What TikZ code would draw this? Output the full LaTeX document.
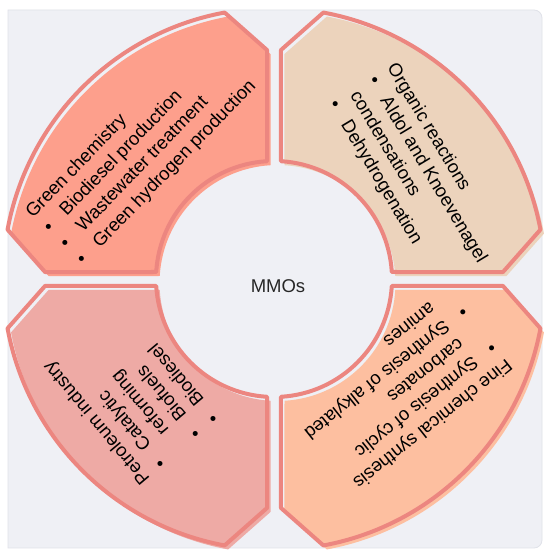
\documentclass[tikz,border=0pt]{standalone}
\usepackage{fontspec}
\setmainfont{Liberation Sans}

\definecolor{panel}{RGB}{239,240,245}
\definecolor{panelline}{RGB}{224,226,233}
\definecolor{ringline}{RGB}{236,134,128}
\definecolor{segA}{RGB}{253,159,140}
\definecolor{segB}{RGB}{236,211,188}
\definecolor{segC}{RGB}{238,170,165}
\definecolor{segD}{RGB}{253,191,160}

\tikzset{
  segline/.style={draw=ringline, line width=4pt, line join=round},
  txt/.style={anchor=base west, inner sep=0pt, transform shape,
    font=\fontsize{18.5}{22}\selectfont},
}
\newcommand{\bul}{\makebox[23.5pt][l]{\textbullet}}

\begin{document}
\begin{tikzpicture}[x=1pt,y=1pt]

\useasboundingbox (0,0) rectangle (550,557);
\fill[white] (0,0) rectangle (550,557);

% grey panel
\filldraw[fill=panel, draw=panelline, line width=0.8pt] (8,9) -- (8,547) -- (534,547)
  arc[start angle=90, end angle=0, radius=8] -- (542,17)
  arc[start angle=0, end angle=-90, radius=8] -- cycle;

% four ring segments (fill sits a little right/down of its outline)
\foreach \a/\col in {0/segA,90/segB,180/segD,270/segC}{
  \fill[\col, shift={(277.5,274)}] (91.75-\a:229.1) -- (100.5-\a:271)
    arc[start angle=100.5-\a, end angle=169.5-\a, radius=271]
    -- (178.25-\a:229.1) -- (176.6-\a:118)
    arc[start angle=176.6-\a, end angle=93.4-\a, radius=118] -- cycle;
  \draw[segline, shift={(274,278)}] (91.75-\a:229.1) -- (100.5-\a:271)
    arc[start angle=100.5-\a, end angle=169.5-\a, radius=271]
    -- (178.25-\a:229.1) -- (176.6-\a:118)
    arc[start angle=176.6-\a, end angle=93.4-\a, radius=118] -- cycle;
}

\node[font=\fontsize{18.5}{22}\selectfont, text=black!85] (mmo) at (278,271) {MMOs};

% top left
\begin{scope}[shift={(32.9,338.1)}, rotate=46]
\node[txt] (green) at (0,0) {Green chemistry};
\node[txt] (bio) at (1.5,-23) {\bul Biodiesel production};
\node[txt] (waste) at (1.5,-46) {\bul Wastewater treatment};
\node[txt] (hydro) at (1.5,-69) {\bul Green hydrogen production};
\end{scope}

% top right
\begin{scope}[shift={(386.7,489.5)}, rotate=-59]
\node[txt] (organic) at (0,0) {Organic reactions};
\node[txt] (aldol) at (1.5,-23) {\bul Aldol and Knoevenagel};
\node[txt] (cond) at (5,-46) {condensations};
\node[txt] (dehyd) at (1.5,-69) {\bul Dehydrogenation};
\end{scope}

% bottom left
\begin{scope}[shift={(150.4,78.8)}, rotate=130]
\node[txt] (petro) at (0,0) {Petroleum industry};
\node[txt] (cata) at (1.5,-23) {\bul Catalytic};
\node[txt] (reform) at (25,-46) {reforming};
\node[txt] (biofuel) at (1.5,-69) {\bul Biofuels};
\node[txt] (biodsl) at (1.5,-92) {\bul Biodiesel};
\end{scope}

% bottom right
\begin{scope}[shift={(506,199)}, rotate=218.5]
\node[txt] (fine) at (0,0) {Fine chemical synthesis};
\node[txt] (cyclic) at (1.5,-23) {\bul Synthesis of cyclic};
\node[txt] (carb) at (25,-46) {carbonates};
\node[txt] (alkyl) at (1.5,-69) {\bul Synthesis of alkylated};
\node[txt] (amine) at (25,-92) {amines};
\end{scope}

\end{tikzpicture}
\end{document}
